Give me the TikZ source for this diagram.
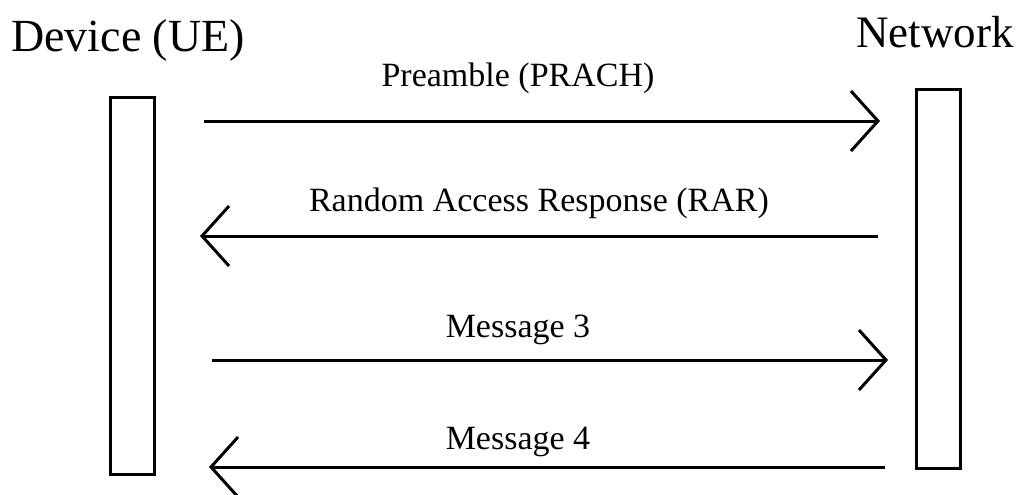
\documentclass[tikz,border=0pt]{standalone}
\usepackage{fontspec}
\setmainfont{Liberation Serif}
\usetikzlibrary{arrows.meta}
\begin{document}
\begin{tikzpicture}[x=1pt,y=-1pt,
  lifeline/.style={draw=black,line width=3pt,minimum width=44pt,inner sep=0pt},
  msg/.style={line width=3pt,-{Straight Barb[length=27pt,width=60pt]}},
  msglabel/.style={inner sep=0pt,anchor=base,font=\fontsize{34}{40}\selectfont},
  party/.style={inner sep=0pt,anchor=base west}]
\useasboundingbox (0,0) rectangle (1020,495);

% participants
\node[party,font=\fontsize{46}{54}\selectfont] (ue) at (11,52) {Device (UE)};
\node[party,font=\fontsize{45}{52}\selectfont] (nw) at (856,48) {Network};

% activation bars
\node[lifeline,minimum height=377pt] (uebar) at (132.5,286) {};
\node[lifeline,minimum height=379pt] (nwbar) at (938.5,279) {};

% message end points
\coordinate (m1s) at (204,121);  \coordinate (m1e) at (880,121);
\coordinate (m2s) at (878,236);  \coordinate (m2e) at (200,236);
\coordinate (m3s) at (212,360);  \coordinate (m3e) at (888,360);
\coordinate (m4s) at (885,467);  \coordinate (m4e) at (209,467);

% messages
\draw[msg] (m1s) -- (m1e);
\draw[msg] (m2s) -- (m2e);
\draw[msg] (m3s) -- (m3e);
\draw[msg] (m4s) -- (m4e);

% message labels
\node[msglabel] (l1) at (518,87) {Preamble (PRACH)};
\node[msglabel] (l2) at (539,211) {Random Access Response (RAR)};
\node[msglabel] (l3) at (518,337) {Message 3};
\node[msglabel] (l4) at (518,449) {Message 4};
\end{tikzpicture}
\end{document}
